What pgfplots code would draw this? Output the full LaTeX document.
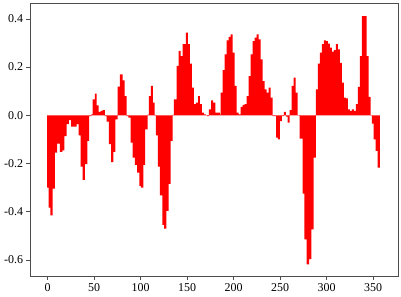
\documentclass[border=0pt]{standalone}
\usepackage{pgfplots}
\pgfplotsset{compat=1.18}
\usepackage{fontspec}
\setmainfont{Liberation Serif}
\begin{document}
\begin{tikzpicture}
\begin{axis}[
  scale only axis,
  width=368.3bp, height=273.3bp,
  xmin=-19, xmax=377,
  ymin=-0.668, ymax=0.466,
  xtick={0,50,...,350},
  ytick={-0.6,-0.4,-0.2,0,0.2,0.4},
  yticklabel style={/pgf/number format/.cd, fixed, fixed zerofill, precision=1},
  /pgf/number format/assume math mode=true,
  tick label style={font=\fontsize{12}{14}\selectfont},
  tick align=outside,
  tick pos=left,
  major tick length=3.5bp,
  axis line style={black!70, line width=0.8bp},
  every tick/.style={black!70, line width=0.8bp},
]
\addplot[ybar interval, fill=red, draw=none] coordinates {
(-0.5,-0.30) (1,-0.383) (3,-0.415) (5.3,-0.304) (7.8,-0.155) (10.3,-0.118)
(13.2,-0.152) (15.7,-0.145) (17.9,-0.086) (20.4,-0.037) (22.9,-0.02) (25.1,-0.047)
(31.2,-0.037) (33.3,-0.083) (35.5,-0.213) (37.6,-0.268) (40.1,-0.203) (42.6,-0.106)
(44.7,-0.003) (46.9,0.004) (48.3,0.066) (50.8,0.09) (52.6,0.041) (54.8,0.014)
(56.9,0.018) (59.1,0.022) (61.6,-0.003) (63.4,-0.026) (65.9,-0.12) (68.1,-0.194)
(70.6,-0.152) (72.7,-0.017) (75.2,0.119) (77.7,0.17) (80.6,0.145) (82.7,0.08)
(84.9,-0.003) (86.7,-0.01) (89.2,-0.113) (91.3,-0.176) (93.8,-0.206) (96.3,-0.238)
(98.5,-0.293) (100.3,-0.30) (102.8,-0.206) (104.9,-0.058) (107.4,0.003) (108.8,0.08)
(111,0.122) (113.1,0.053) (114.9,0.002) (116.4,-0.083) (118.5,-0.213) (120.7,-0.332)
(123.2,-0.455) (125.3,-0.47) (127.5,-0.397) (130,-0.284) (132.1,-0.106) (134.3,0.002)
(135.7,0.066) (138.6,0.205) (140.7,0.267) (142.9,0.246) (145,0.295) (148.6,0.343)
(150.7,0.295) (152.9,0.214) (155,0.115) (157.2,0.046) (159.3,0.053) (161.8,0.08)
(163.6,0.046) (165.8,0.011) (167.9,0.004) (170.1,0.001) (171.5,-0.003) (173.3,0.025)
(175.8,0.062) (178,0.053) (180.4,0.011) (182.7,0.011) (185.2,0.003) (186,0.094)
(188.1,0.187) (190.3,0.253) (192.4,0.311) (194.5,0.325) (196.7,0.336) (198.8,0.26)
(201,0.122) (203.1,0.011) (205.3,0.004) (207.4,0.035) (209.6,0.043) (211.7,0.046)
(213.9,0.08) (216,0.163) (218.2,0.253) (220.3,0.308) (222.5,0.322) (224.6,0.336)
(226.8,0.315) (228.9,0.232) (231.1,0.142) (233.2,0.108) (235.4,0.094) (237.5,0.115)
(239.7,0.073) (241.8,-0.003) (245.7,-0.093) (247.5,-0.1) (249.7,-0.024) (251.8,-0.003)
(254,0.014) (256.1,-0.005) (257.9,-0.03) (260.1,0.021) (262.2,0.122) (264.4,0.156)
(266.5,0.094) (268.7,0.001) (270.8,-0.097) (274.2,-0.325) (276,-0.515) (278.5,-0.618)
(281,-0.597) (283.5,-0.473) (286,-0.176) (288.5,0.108) (290.6,0.214) (292.8,0.26)
(294.9,0.295) (297.1,0.311) (299.2,0.308) (301.4,0.297) (303.5,0.281) (305.7,0.264)
(307.8,0.27) (310,0.295) (312.1,0.274) (314.3,0.218) (316.4,0.136) (318.6,0.073)
(320.7,0.07) (322.9,0.025) (325,0.018) (327.2,0.025) (329.3,0.018) (331.4,0.046)
(333.6,0.118) (335.7,0.246) (337.9,0.412) (342.9,0.246) (345.1,0.076) (347.2,0.001)
(348.6,-0.035) (350.4,-0.1) (352.6,-0.148) (354.7,-0.217) (357.2,0)
};
\end{axis}
\path (current axis.south west)+(-30bp,-20.7bp) coordinate (bbA);
\path (current axis.north east)+(2.7bp,3bp) coordinate (bbB);
\useasboundingbox (bbA) rectangle (bbB);
\end{tikzpicture}
\end{document}
